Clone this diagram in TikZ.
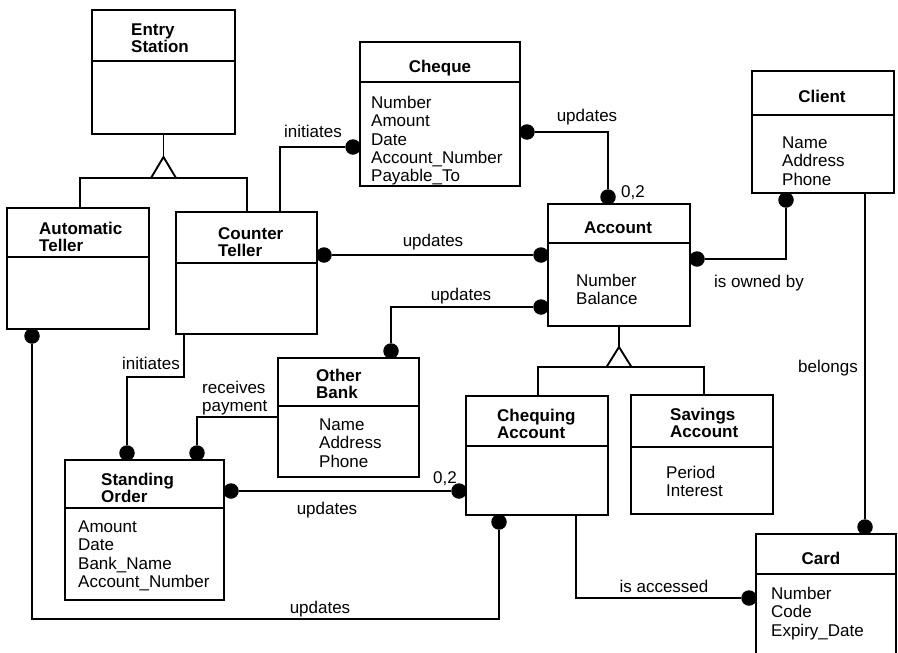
\documentclass[tikz,border=0pt]{standalone}
\usepackage{fontspec}
\setmainfont{Liberation Sans}
\usetikzlibrary{calc}
\newcommand\rows[1]{\begin{tabular}[t]{@{}l@{}}#1\end{tabular}}
\tikzset{
  box/.style={draw, line width=1.9pt, anchor=north west, inner sep=0pt, outer sep=0pt},
  wire/.style={line width=1.9pt},
  dot/.style={circle, fill, inner sep=0pt, minimum size=15.5pt},
  title/.style={font=\fontsize{17}{17.5}\selectfont\bfseries, inner sep=0pt},
  attr/.style={font=\fontsize{17}{18.5}\selectfont, inner sep=0pt, anchor=base west},
  lbl/.style={font=\fontsize{17}{18}\selectfont, inner sep=0pt, anchor=base},
}
\begin{document}
\begin{tikzpicture}[x=1pt, y=-1pt]
\useasboundingbox (0,0) rectangle (898,653);
\clip (0,0) rectangle (898,653);

% class boxes
\node[box, minimum width=143pt, minimum height=124pt] (es)   at (92,10)   {};
\node[box, minimum width=142pt, minimum height=121pt] (at)   at (7,208)   {};
\node[box, minimum width=141pt, minimum height=122pt] (ct)   at (176,212) {};
\node[box, minimum width=160pt, minimum height=144pt] (chq)  at (360,42)  {};
\node[box, minimum width=142pt, minimum height=122pt] (acc)  at (548,204) {};
\node[box, minimum width=142pt, minimum height=122pt] (cli)  at (752,71)  {};
\node[box, minimum width=141pt, minimum height=119pt] (ob)   at (278,358) {};
\node[box, minimum width=159pt, minimum height=140pt] (so)   at (65,460)  {};
\node[box, minimum width=142pt, minimum height=119pt] (chk)  at (466,396) {};
\node[box, minimum width=142pt, minimum height=119pt] (sav)  at (631,395) {};
\node[box, minimum width=140pt, minimum height=140pt] (card) at (756,534) {};

% compartment dividers
\foreach \b/\y in {es/61, at/257, ct/263, chq/82, acc/243, cli/115, ob/406, so/508, chk/446, sav/447, card/574}
  \draw[wire] (\b.west |- 0,\y) -- (\b.east |- 0,\y);

% class names
\node[title, anchor=base west] (esT)   at (131,35)  {\rows{Entry\\Station}};
\node[title, anchor=base west] (atT)   at (39,234)  {\rows{Automatic\\Teller}};
\node[title, anchor=base west] (ctT)   at (218,239) {\rows{Counter\\Teller}};
\node[title, anchor=base]      (chqT)  at (440,72)  {Cheque};
\node[title, anchor=base]      (accT)  at (618,233) {Account};
\node[title, anchor=base]      (cliT)  at (822,102) {Client};
\node[title, anchor=base west] (obT)   at (316,381) {\rows{Other\\Bank}};
\node[title, anchor=base west] (soT)   at (101,485) {\rows{Standing\\Order}};
\node[title, anchor=base west] (chkT)  at (497,421) {\rows{Chequing\\Account}};
\node[title, anchor=base west] (savT)  at (670,420) {\rows{Savings\\Account}};
\node[title, anchor=base]      (cardT) at (821,564) {Card};

% attributes
\node[attr] (chqA)  at (371,108) {\rows{Number\\Amount\\Date\\Account\_Number\\Payable\_To}};
\node[attr] (accA)  at (576,286) {\rows{Number\\Balance}};
\node[attr] (cliA)  at (782,148) {\rows{Name\\Address\\Phone}};
\node[attr] (obA)   at (319,430) {\rows{Name\\Address\\Phone}};
\node[attr] (soA)   at (78,532)  {\rows{Amount\\Date\\Bank\_Name\\Account\_Number}};
\node[attr] (savA)  at (666,478) {\rows{Period\\Interest}};
\node[attr] (cardA) at (771,599) {\rows{Number\\Code\\Expiry\_Date}};

% generalisation: Entry Station
\coordinate (t1) at ($(es.south)+(0,23)$);
\coordinate (b1) at ($(t1)+(0,21)$);
\draw[wire] (es.south) -- (t1);
\draw[wire, line join=miter] (t1) -- ++(-12.5,21) -- ++(25,0) -- cycle;
\draw[wire] (at.north -| 80,0) |- (b1) -| (ct.north -| 247,0);

% generalisation: Account
\coordinate (t2) at ($(acc.south)+(0,21)$);
\coordinate (b2) at ($(t2)+(0,20)$);
\draw[wire] (acc.south) -- (t2);
\draw[wire, line join=miter] (t2) -- ++(-12.5,20) -- ++(25,0) -- cycle;
\draw[wire] (chk.north -| 538,0) |- (b2) -| (sav.north -| 704,0);

% Counter Teller initiates Cheque
\node[dot] (dA) at ($(chq.west |- 0,147)+(-7,0)$) {};
\draw[wire] (ct.north -| 280,0) |- (dA);
\node[lbl] (l1) at (313,137) {initiates};

% Cheque updates Account
\node[dot] (dB) at ($(chq.east |- 0,132)+(7,0)$) {};
\node[dot] (dC) at ($(acc.north -| 608,0)+(0,-7)$) {};
\draw[wire] (dB) -| (dC);
\node[lbl] (l2) at (587,121) {updates};
\node[lbl, anchor=base west] (m1) at (621,197) {0,2};

% Counter Teller updates Account
\node[dot] (dD) at ($(ct.east |- 0,255)+(7,0)$) {};
\node[dot] (dE) at ($(acc.west |- 0,255)+(-7,0)$) {};
\draw[wire] (dD) -- (dE);
\node[lbl] (l3) at (433,246) {updates};

% Other Bank updates Account
\node[dot] (dF) at ($(acc.west |- 0,307)+(-7,0)$) {};
\node[dot] (dG) at ($(ob.north -| 391,0)+(0,-7)$) {};
\draw[wire] (dF) -| (dG);
\node[lbl] (l4) at (461,300) {updates};

% Account is owned by Client
\node[dot] (dH) at ($(acc.east |- 0,259)+(7,0)$) {};
\node[dot] (dI) at ($(cli.south -| 786,0)+(0,7)$) {};
\draw[wire] (dH) -| (dI);
\node[lbl] (l5) at (759,287) {is owned by};

% Card belongs to Client
\node[dot] (dJ) at ($(card.north -| 865,0)+(0,-7)$) {};
\draw[wire] (cli.south -| dJ) -- (dJ);
\node[lbl] (l6) at (828,372) {belongs};

% Counter Teller initiates Standing Order
\node[dot] (dK) at ($(so.north -| 127,0)+(0,-7)$) {};
\draw[wire] (ct.south -| 184,0) -- ++(0,43) -| (dK);
\node[lbl, anchor=base east] (l7) at (180,369) {initiates};

% Other Bank receives payment from Standing Order
\node[dot] (dL) at ($(so.north -| 197,0)+(0,-7)$) {};
\draw[wire] (ob.west |- 0,417) -| (dL);
\node[lbl, anchor=base west] (l8) at (202,393) {\rows{receives\\payment}};

% Standing Order updates Chequing Account
\node[dot] (dM) at ($(so.east |- 0,491)+(7,0)$) {};
\node[dot] (dN) at ($(chk.west |- 0,491)+(-7,0)$) {};
\draw[wire] (dM) -- (dN);
\node[lbl] (l9) at (327,514) {updates};
\node[lbl, anchor=base west] (m2) at (433,483) {0,2};

% Automatic Teller updates Chequing Account
\node[dot] (dO) at ($(at.south -| 32,0)+(0,7)$) {};
\node[dot] (dP) at ($(chk.south -| 499,0)+(0,7)$) {};
\draw[wire] (dO) -- (dO |- 0,619) -| (dP);
\node[lbl] (l10) at (320,613) {updates};

% Chequing Account is accessed by Card
\node[dot] (dQ) at ($(card.west |- 0,598)+(-7,0)$) {};
\draw[wire] (chk.south -| 576,0) |- (dQ);
\node[lbl] (l11) at (664,592) {is accessed};
\end{tikzpicture}
\end{document}
